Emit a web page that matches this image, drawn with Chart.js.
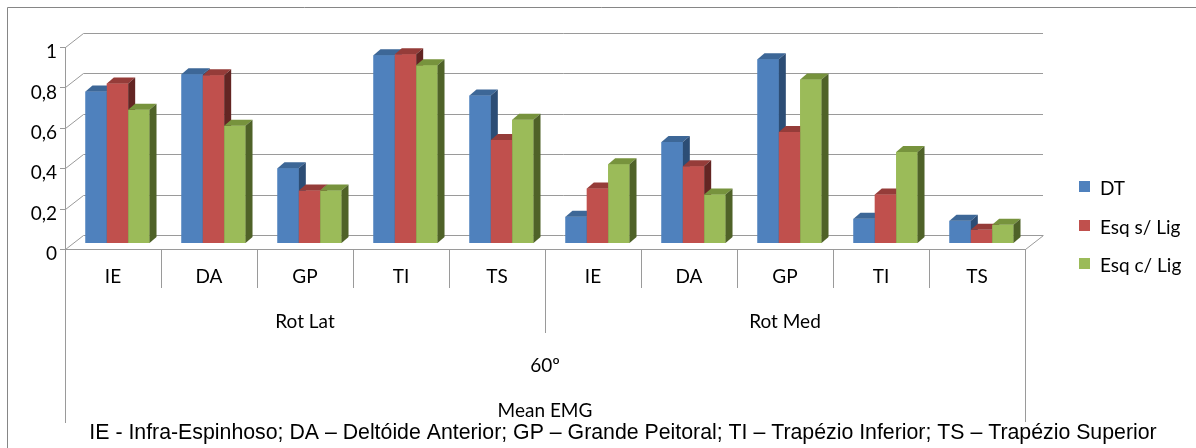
<!DOCTYPE html>
<html>
<head>
<meta charset="utf-8">
<script src="https://cdn.jsdelivr.net/npm/chart.js@4.4.1/dist/chart.umd.min.js"></script>
<style>
html, body { margin: 0; padding: 0; background: #fff; }
</style>
</head>
<body>
<canvas id="grafico" width="1196" height="448"></canvas>
<script>
// categorias (musculos) e grupos
const musculos = ["IE", "DA", "GP", "TI", "TS", "IE", "DA", "GP", "TI", "TS"];
const grupos = ["Rot Lat", "Rot Med"];
const angulo = "60º";
const tituloEixo = "Mean EMG";
const nota = "IE - Infra-Espinhoso; DA – Deltóide Anterior; GP – Grande Peitoral; TI – Trapézio Inferior; TS – Trapézio Superior";

// series
const series = ["DT", "Esq s/ Lig", "Esq c/ Lig"];
const valoresDT = [0.75, 0.835, 0.37, 0.93, 0.73, 0.13, 0.50, 0.91, 0.12, 0.11];
const valoresSemLig = [0.79, 0.83, 0.26, 0.935, 0.51, 0.27, 0.38, 0.55, 0.24, 0.065];
const valoresComLig = [0.66, 0.58, 0.26, 0.88, 0.61, 0.39, 0.24, 0.81, 0.45, 0.09];

// eixo y
const ticksY = [0, 0.2, 0.4, 0.6, 0.8, 1];

// cores (frente, topo, lado)
const corFrente = ["#4f81bd", "#c0504d", "#9bbb59"];
const corTopo = ["#3d6797", "#953c39", "#77933d"];
const corLado = ["#2c4d75", "#632523", "#4f6228"];

// profundidade do "3D"
const PAREDE_X = 18, PAREDE_Y = -14;
const BARRA_X = 4.5, BARRA_Y = -6;
const TAMPA_X = 7, TAMPA_Y = -6;
const COR_LINHA = "#9a9a9a";
const FONTE = "Lato";
const TAM = 19;

function linha(ctx, pts) {
    ctx.beginPath();
    ctx.moveTo(pts[0][0], pts[0][1]);
    for (let i = 1; i < pts.length; i++) ctx.lineTo(pts[i][0], pts[i][1]);
    ctx.stroke();
}

function poligono(ctx, pts, cor) {
    ctx.beginPath();
    ctx.moveTo(pts[0][0], pts[0][1]);
    for (let i = 1; i < pts.length; i++) ctx.lineTo(pts[i][0], pts[i][1]);
    ctx.closePath();
    ctx.fillStyle = cor;
    ctx.fill();
}

function texto(ctx, t, x, y, fonte, align) {
    ctx.font = fonte;
    ctx.fillStyle = "#000";
    ctx.textAlign = align || "center";
    ctx.textBaseline = "middle";
    ctx.fillText(t, x, y);
}

const efeito3d = {
    id: "efeito3d",
    beforeDatasetsDraw(chart) {
        const ctx = chart.ctx;
        const ys = chart.scales.y;
        const { left: L, right: R } = chart.chartArea;
        ctx.save();
        ctx.strokeStyle = COR_LINHA;
        ctx.lineWidth = 1;
        // paredes: grade no fundo + diagonais da parede esquerda
        ticksY.forEach(v => {
            const py = Math.round(ys.getPixelForValue(v)) + 0.5;
            linha(ctx, [[L - 5, py], [L + 0.5, py], [L + 0.5 + PAREDE_X, py + PAREDE_Y], [R + PAREDE_X, py + PAREDE_Y]]);
        });
        // chao: borda frontal e lateral direita
        const y0 = Math.round(ys.getPixelForValue(0)) + 0.5;
        linha(ctx, [[L, y0], [R + 0.5, y0], [R + 0.5 + PAREDE_X, y0 + PAREDE_Y]]);
        // eixo vertical frontal
        linha(ctx, [[L + 0.5, Math.round(ys.getPixelForValue(1))], [L + 0.5, y0]]);
        ctx.restore();

        // barras ficam no meio da profundidade
        ctx.save();
        ctx.translate(BARRA_X, BARRA_Y);
    },
    afterDatasetsDraw(chart) {
        const ctx = chart.ctx;
        // redesenha da esquerda para a direita com topo e lado
        for (let i = 0; i < musculos.length; i++) {
            for (let d = 0; d < series.length; d++) {
                const el = chart.getDatasetMeta(d).data[i];
                const x0 = el.x - el.width / 2, x1 = el.x + el.width / 2;
                const yt = el.y, yb = el.base;
                poligono(ctx, [[x0, yt], [x1, yt], [x1, yb], [x0, yb]], corFrente[d]);
                poligono(ctx, [[x0, yt], [x1, yt], [x1 + TAMPA_X, yt + TAMPA_Y], [x0 + TAMPA_X, yt + TAMPA_Y]], corTopo[d]);
                poligono(ctx, [[x1, yt], [x1 + TAMPA_X, yt + TAMPA_Y], [x1 + TAMPA_X, yb + TAMPA_Y], [x1, yb]], corLado[d]);
            }
        }
        ctx.restore();
    },
    afterDraw(chart) {
        const ctx = chart.ctx;
        const xs = chart.scales.x, ys = chart.scales.y;
        const { left: L, right: R } = chart.chartArea;
        const y0 = Math.round(ys.getPixelForValue(0));
        ctx.save();
        ctx.strokeStyle = COR_LINHA;
        ctx.lineWidth = 1;
        // linhas da tabela de categorias
        linha(ctx, [[L + 0.5, y0], [L + 0.5, 423]]);
        linha(ctx, [[R + 0.5, y0], [R + 0.5, 422]]);
        for (let i = 1; i < musculos.length; i++) {
            const px = Math.round((xs.getPixelForValue(i - 1) + xs.getPixelForValue(i)) / 2) + 0.5;
            linha(ctx, [[px, y0], [px, i === 5 ? 333 : 288]]);
        }
        // borda externa
        ctx.strokeStyle = "#868686";
        linha(ctx, [[7.5, 448], [7.5, 7.5], [1196, 7.5]]);

        // rotulos dos grupos
        const fTxt = TAM + "px " + FONTE;
        grupos.forEach((g, k) => {
            const cx = (xs.getPixelForValue(k * 5) + xs.getPixelForValue(k * 5 + 4)) / 2;
            texto(ctx, g, cx, 322, fTxt);
        });
        texto(ctx, angulo, (L + R) / 2, 366, fTxt);
        texto(ctx, tituloEixo, (L + R) / 2, 411, fTxt);
        texto(ctx, nota, 623, 433, "21.3px 'Liberation Sans'");

        // legenda
        const legY = [186.5, 225.5, 263.5];
        series.forEach((s, d) => {
            ctx.fillStyle = corFrente[d];
            ctx.fillRect(1079, legY[d] - 5.5, 11, 11);
            texto(ctx, s, 1100, legY[d] + 2, fTxt, "left");
        });
        ctx.restore();
    }
};

const ctx = document.getElementById("grafico").getContext("2d");

const grafico = new Chart(ctx, {
    type: "bar",
    data: {
        labels: musculos,
        datasets: [
            { label: series[0], data: valoresDT, backgroundColor: corFrente[0] },
            { label: series[1], data: valoresSemLig, backgroundColor: corFrente[1] },
            { label: series[2], data: valoresComLig, backgroundColor: corFrente[2] }
        ]
    },
    options: {
        responsive: false,
        animation: false,
        events: [],
        datasets: {
            bar: { categoryPercentage: 0.667, barPercentage: 1, borderWidth: 0, clip: false }
        },
        layout: { padding: { top: 47, right: 171, bottom: 0, left: 0 } },
        plugins: {
            legend: { display: false },
            tooltip: { enabled: false }
        },
        scales: {
            x: {
                grid: { display: false, drawTicks: false },
                border: { display: false },
                ticks: {
                    font: { family: FONTE, size: TAM },
                    color: "#000",
                    padding: 16,
                    maxRotation: 0,
                    autoSkip: false
                },
                afterFit(s) { s.height = 199; }
            },
            y: {
                min: 0,
                max: 1,
                grid: { display: false, drawTicks: false },
                border: { display: false },
                afterBuildTicks(s) { s.ticks = ticksY.map(v => ({ value: v })); },
                ticks: {
                    font: { family: FONTE, size: TAM },
                    color: "#000",
                    padding: 8,
                    labelOffset: 5,
                    callback: v => String(v).replace(".", ",")
                },
                afterFit(s) { s.width = 65; }
            }
        }
    },
    plugins: [efeito3d]
});
</script>
</body>
</html>
